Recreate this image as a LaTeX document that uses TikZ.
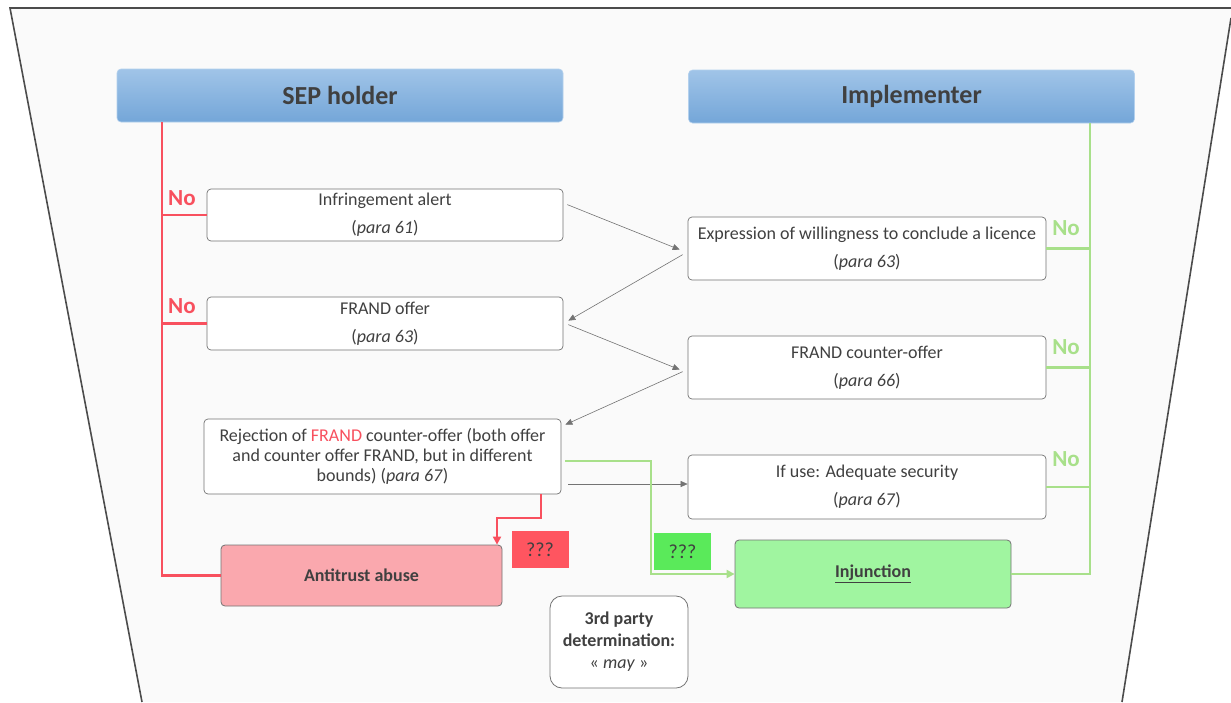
\documentclass[tikz,border=0pt]{standalone}
\usepackage{fontspec}
\setmainfont{Carlito}
\usetikzlibrary{arrows.meta,calc}
\definecolor{txt}{HTML}{404040}
\definecolor{redl}{HTML}{F8505E}
\definecolor{greenl}{HTML}{A8E08A}
\definecolor{hdrtop}{HTML}{A0C4E8}
\definecolor{hdrbot}{HTML}{74A6D8}
\definecolor{antifill}{HTML}{FAA8AE}
\definecolor{injfill}{HTML}{A0F5A0}
\definecolor{qred}{HTML}{FF5560}
\definecolor{qgreen}{HTML}{5AEA5A}
\definecolor{bggray}{HTML}{FAFAFA}
\tikzset{
  hdr/.style={rounded corners=4pt, top color=hdrtop, bottom color=hdrbot, draw=hdrtop!80!white, line width=0.6pt,
    minimum width=446pt, minimum height=53pt, font=\fontsize{26}{30}\selectfont\bfseries, text=txt},
  stepbox/.style={draw=black!55, fill=white, rounded corners=4pt, line width=0.7pt, align=center,
    font=\fontsize{18}{28}\selectfont, text=txt, inner sep=0pt},
  redline/.style={draw=redl, line width=2.6pt},
  greenline/.style={draw=greenl, line width=2.6pt},
  garrow/.style={draw=black!55, line width=0.6pt, -{Triangle[length=7pt,width=6pt]}},
  nolab/.style={font=\fontsize{23}{26}\selectfont\bfseries},
  qbox/.style={minimum width=57pt, minimum height=37pt, inner sep=0pt, font=\fontsize{20}{24}\selectfont, text=txt},
  outbox/.style={rounded corners=4pt, draw=black!55, line width=0.8pt, inner sep=0pt,
    font=\fontsize{18}{21}\selectfont\bfseries, text=txt}
}
\begin{document}
\begin{tikzpicture}[x=1pt,y=-1pt]
\useasboundingbox (0,0) rectangle (1231,702);
% background trapezoid
\fill[bggray] (10,8) -- (1231,8) -- (1231,18) -- (1122,702) -- (142,702) -- cycle;
\draw[black!70, line width=1.6pt] (142,702) -- (10,8) -- (1231,8);
\draw[black!70, line width=1.6pt] (1231,18) -- (1122,702);

% headers
\node[hdr] (sep) at (340,95.5) {SEP holder};
\node[hdr] (imp) at (911.5,96.5) {Implementer};

% left boxes
\node[stepbox, minimum width=356pt, minimum height=52pt] (infr) at (385,215)
  {Infringement alert\\(\textit{para 61})};
\node[stepbox, minimum width=356pt, minimum height=53pt] (frand) at (385,323.5)
  {FRAND offer\\(\textit{para 63})};
\node[stepbox, minimum width=357pt, minimum height=75pt, font=\fontsize{18}{20}\selectfont] (rej) at (382.5,456.5)
  {Rejection of {\color{redl}FRAND} counter-offer (both offer\\and counter offer FRAND, but in different\\bounds) (\textit{para 67})};

% right boxes
\node[stepbox, minimum width=358pt, minimum height=63pt] (expr) at (867,248.5)
  {Expression of willingness to conclude a licence\\(\textit{para 63})};
\node[stepbox, minimum width=358pt, minimum height=63pt] (cntr) at (867,367.5)
  {FRAND counter-offer\\(\textit{para 66})};
\node[stepbox, minimum width=358pt, minimum height=64pt] (ifuse) at (867,487)
  {If use: Adequate security\\(\textit{para 67})};

% outcome boxes
\node[outbox, fill=antifill, minimum width=281pt, minimum height=61pt] (anti) at (361.5,575.5) {Antitrust abuse};
\node[outbox, fill=injfill, minimum width=276pt, minimum height=68pt] (inj) at (873,574) {\underline{Injunction}};
\node[qbox, fill=qred] (qr) at (540,549.5) {???};
\node[qbox, fill=qgreen] (qg) at (682.5,551.5) {???};
\node[outbox, fill=white, rounded corners=12pt, minimum width=138pt, minimum height=92pt, align=center,
  font=\fontsize{18}{22}\selectfont\bfseries] (third) at (619,642)
  {3rd party\\determination:\\{\mdseries «~\textit{may}~»}};

% red SEP holder line
\coordinate (rtop) at (162,122);
\draw[redline] (sep.south -| rtop) -- (rtop |- anti.west) -- (anti.west);
\draw[redline] (infr.west) -- (infr.west -| rtop);
\draw[redline] (frand.west) -- (frand.west -| rtop);
\node[nolab, text=redl] (no1) at (182,198) {No};
\node[nolab, text=redl] (no2) at (182,306) {No};

% green implementer line
\coordinate (gtop) at (1090,123);
\draw[greenline] (imp.south -| gtop) -- (gtop |- inj.east) -- (inj.east);
\draw[greenline] (expr.east) -- (expr.east -| gtop);
\draw[greenline] (cntr.east) -- (cntr.east -| gtop);
\draw[greenline] (ifuse.east) -- (ifuse.east -| gtop);
\node[nolab, text=greenl] (no3) at (1066,228) {No};
\node[nolab, text=greenl] (no4) at (1066,347) {No};
\node[nolab, text=greenl] (no5) at (1066,459) {No};

% grey arrows
\draw[garrow] ([shift={(4,16)}]infr.north east) -- ([shift={(-8,33)}]expr.north west);
\draw[garrow] ([shift={(-5,38)}]expr.north west) -- ([shift={(5,24)}]frand.north east);
\draw[garrow] ([shift={(5,28)}]frand.north east) -- ([shift={(-8,34)}]cntr.north west);
\draw[garrow] ([shift={(-5,36)}]cntr.north west) -- ([shift={(4,6)}]rej.north east);
\draw[garrow] ($(rej.east |- ifuse.west)+(7,-3)$) -- ($(ifuse.west)+(0,-3)$);

% red arrow to antitrust
\coordinate (rbend) at (541,518);
\coordinate (ax) at (497,0);
\draw[redline, line width=2.2pt, -{Triangle[length=8pt,width=8pt]}] (rej.south -| rbend) -- (rbend) -- (rbend -| ax) -- (ax |- anti.north);

% green arrow to injunction
\coordinate (gb) at (651,461);
\draw[greenline, line width=2.2pt, -{Triangle[length=8pt,width=8pt]}] ($(gb -| rej.east)+(4,0)$) -- (gb) -- (gb |- inj.west) -- (inj.west);
\end{tikzpicture}
\end{document}
